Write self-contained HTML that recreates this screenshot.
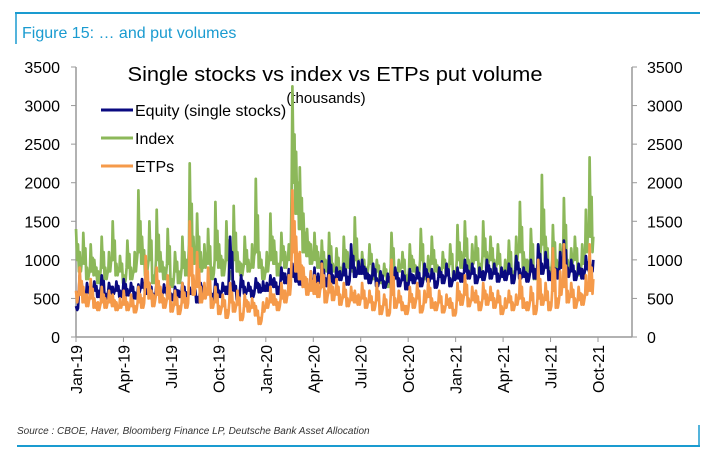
<!DOCTYPE html>
<html><head><meta charset="utf-8"><style>
body{margin:0;background:#fff;}
svg{display:block;font-family:"Liberation Sans",sans-serif;}
</style></head><body>
<svg id="chart" width="705" height="461" viewBox="0 0 705 461">
<line x1="15" y1="13" x2="700" y2="13" stroke="#1a9bd0" stroke-width="2"/>
<line x1="16" y1="13" x2="16" y2="44" stroke="#1a9bd0" stroke-width="1.5"/>
<text x="22" y="38" font-size="16" fill="#1a9bd0">Figure 15: … and put volumes</text>
<text x="335" y="81" font-size="20" text-anchor="middle" fill="#000" textLength="415" lengthAdjust="spacingAndGlyphs">Single stocks vs index  vs ETPs put volume</text>
<text x="326" y="103" font-size="15" text-anchor="middle" fill="#000">(thousands)</text>
<g id="axes"></g>
<g id="series"></g>
<g>
<line x1="101" y1="110" x2="133" y2="110" stroke="#0a0a80" stroke-width="3"/>
<text x="135" y="116" font-size="16">Equity (single stocks)</text>
<line x1="101" y1="138" x2="133" y2="138" stroke="#8cb85a" stroke-width="3"/>
<text x="135" y="144" font-size="16">Index</text>
<line x1="101" y1="166" x2="133" y2="166" stroke="#f59a4a" stroke-width="3"/>
<text x="135" y="172" font-size="16">ETPs</text>
</g>
<text x="17" y="434" font-size="10" font-style="italic" fill="#333">Source : CBOE, Haver, Bloomberg Finance LP, Deutsche Bank Asset Allocation</text>
<line x1="17" y1="446" x2="700" y2="446" stroke="#1a9bd0" stroke-width="2"/>
<line x1="699" y1="425" x2="699" y2="446" stroke="#1a9bd0" stroke-width="1.5"/>
</svg>
<script>
const yTicks=[0,500,1000,1500,2000,2500,3000,3500];
const xLabels=["Jan-19","Apr-19","Jul-19","Oct-19","Jan-20","Apr-20","Jul-20","Oct-20","Jan-21","Apr-21","Jul-21","Oct-21"];
const indexVals=[1400,1100,1350,900,1200,1000,850,1300,900,1100,1500,950,1050,
800,1250,900,1100,1900,1300,1000,1500,800,1650,1100,900,1400,
750,1100,850,1300,1000,2250,1300,1600,1100,1200,1400,900,1750,
1200,1000,1500,850,1700,1100,950,1300,1000,1200,2050,1100,900,
1100,1600,1250,950,1350,1100,1200,3250,2400,2200,1600,1400,1200,
1350,1100,1250,1000,1350,950,1150,900,1300,1100,1000,1550,1000,
1100,900,1200,850,1000,800,950,750,1350,900,1000,1100,800,
1200,1000,900,1400,850,1050,1300,1000,900,1100,950,1200,850,
1450,1100,1500,1000,1200,1300,950,1500,1100,1300,1000,1200,900,
1000,1250,850,1300,1750,1100,1000,1400,850,1200,2100,1300,900,
1450,1000,1200,1800,1000,1150,1300,900,1200,1650,2330,1300];
const indexLows=[1000,850,950,750,850,800,700,900,750,850,1000,800,850,
700,900,750,850,1100,950,800,1000,700,1000,850,750,950,
650,850,700,900,800,1200,950,1000,850,900,950,750,1000,
900,800,1000,750,1000,850,800,950,850,900,1100,900,750,
850,1000,950,800,1000,900,1000,2000,1600,1400,1100,1050,950,
1000,900,950,850,1000,850,900,800,950,900,850,1000,850,
900,800,950,750,850,700,800,650,950,800,850,900,700,
900,850,800,1000,750,850,950,850,800,900,800,950,750,
1000,900,1050,850,950,1000,800,1050,900,1000,850,950,800,
850,950,750,1000,1100,900,850,1000,750,900,1200,1000,800,
1000,850,950,1100,850,950,1000,800,950,1100,1300,1100];
const equityVals=[400,800,600,700,650,720,600,800,560,700,650,720,600,
750,620,700,580,680,750,640,700,560,720,600,680,620,
560,650,600,700,580,640,660,520,700,620,680,560,750,
600,700,650,1300,720,560,800,650,700,600,760,680,720,
700,800,760,650,900,820,880,950,860,800,780,700,850,
900,820,980,760,1050,800,900,850,950,780,1200,900,980,
1000,880,800,950,760,850,720,820,780,900,760,850,700,
880,800,900,760,950,820,880,720,900,800,950,760,850,
900,820,1000,860,950,800,900,850,1000,880,950,820,900,
860,950,800,1050,880,900,820,1000,880,1200,950,1100,850,
950,880,1100,1250,900,1000,850,950,880,1050,1000,1000];
const equityLows=[350,600,520,580,560,600,520,650,500,600,560,600,520,
620,540,600,500,580,640,560,600,480,620,520,580,540,
480,560,520,600,500,560,560,450,600,540,580,480,620,
520,600,560,900,600,480,650,560,600,520,640,580,600,
600,680,650,560,750,700,740,780,720,680,660,600,620,
640,700,760,660,820,700,780,740,800,680,900,780,820,
820,760,700,800,660,740,640,720,680,760,660,740,620,
740,700,760,660,800,720,760,640,780,700,800,660,740,
760,720,850,760,820,700,780,740,850,760,820,720,780,
740,820,700,880,760,780,720,850,760,950,820,900,740,
820,760,900,1000,780,850,740,820,760,880,850,850];
const etpVals=[600,900,650,550,750,500,450,650,500,600,550,450,500,
600,450,550,400,650,500,1050,700,550,900,650,500,800,
450,600,400,700,500,1500,800,1100,650,700,900,500,650,
400,550,350,700,450,600,300,550,450,500,400,250,450,
500,650,550,450,700,600,800,1900,1300,1100,900,750,850,
800,700,950,600,800,650,750,550,700,500,650,600,550,
700,500,600,450,700,400,550,350,1000,500,600,450,400,
650,500,700,400,600,750,500,450,600,400,550,500,350,
700,550,800,500,650,600,450,700,550,650,500,600,400,
500,600,450,550,800,500,450,650,400,1000,550,700,450,
1150,500,850,1200,600,700,500,650,550,800,1200,750];
const etpLows=[450,550,450,400,500,380,350,450,380,450,400,350,380,
420,350,400,320,450,380,650,500,400,550,450,380,500,
330,420,300,450,380,800,550,650,450,500,550,380,450,
300,400,250,450,330,420,220,400,330,380,280,170,330,
380,450,420,350,500,450,550,1100,850,750,650,550,600,
560,520,650,450,580,480,550,420,520,400,480,450,420,
500,380,450,350,480,300,420,280,550,380,450,350,300,
460,380,500,320,450,520,380,350,450,320,420,380,280,
480,420,550,400,480,450,350,500,420,480,380,450,300,
380,450,350,420,500,380,350,480,300,500,420,480,350,
600,380,550,650,450,520,380,480,420,550,600,560];
const x0=76,x1=598,y0=337,yTop=67,vMax=3500,nMonths=33;
const X=t=>x0+(t/(indexVals.length-1))*(x1-x0)*(32.7/nMonths);
const Y=v=>y0-(v/vMax)*(y0-yTop);
const NS="http://www.w3.org/2000/svg";
const axes=document.getElementById('axes');
function mk(tag,attrs,parent){const e=document.createElementNS(NS,tag);for(const k in attrs)e.setAttribute(k,attrs[k]);parent.appendChild(e);return e;}
let l=mk('line',{x1:x0,y1:y0,x2:x0,y2:yTop,stroke:'#999','stroke-width':1.5},axes);


l=mk('line',{x1:632,y1:y0,x2:632,y2:yTop,stroke:'#999','stroke-width':1.5},axes);


l=mk('line',{x1:x0,y1:y0,x2:632,y2:y0,stroke:'#999','stroke-width':1.5},axes);


yTicks.forEach(v=>{
  const y=Y(v);
  let t=mk('line',{x1:x0-5,y1:y,x2:x0,y2:y,stroke:'#999'},axes);
  
  
  t=mk('line',{x1:632,y1:y,x2:637,y2:y,stroke:'#999'},axes);
  
  
  let tx=mk('text',{x:60,y:y+6,'font-size':16,'text-anchor':'end'},axes);tx.textContent=v;
  
  
  tx=mk('text',{x:647,y:y+6,'font-size':16},axes);tx.textContent=v;
  
  
});
xLabels.forEach((s,i)=>{
  const x=x0+i*(x1-x0)/(xLabels.length-1);
  let t=mk('line',{x1:x,y1:y0,x2:x,y2:y0+5,stroke:'#999'},axes);
  
  
  let tx=mk('text',{x:0,y:0,'font-size':16,'text-anchor':'end',transform:`translate(${x+6},${y0+8}) rotate(-90)`},axes);
  tx.textContent=s;
  
  
});
const ser=document.getElementById('series');
function line(highs,lows,color,name){
  const pts=[];
  highs.forEach((v,i)=>{
    pts.push(X(i).toFixed(1)+','+Y(v).toFixed(1));
    if(i<highs.length-1){
      pts.push(X(i+0.33).toFixed(1)+','+Y(lows[i]).toFixed(1));
      pts.push(X(i+0.55).toFixed(1)+','+Y((highs[i]+lows[i])/2).toFixed(1));
      pts.push(X(i+0.8).toFixed(1)+','+Y(lows[i+1]).toFixed(1));
    }
  });
  const p=mk('polyline',{points:pts.join(' '),fill:'none',stroke:color,'stroke-width':2.7,'stroke-linejoin':'round'},ser);
  
  
}
line(indexVals,indexLows,'#8cb85a','index-line');
line(equityVals,equityLows,'#0a0a80','equity-line');
line(etpVals,etpLows,'#f59a4a','etps-line');
</script>
</body></html>
